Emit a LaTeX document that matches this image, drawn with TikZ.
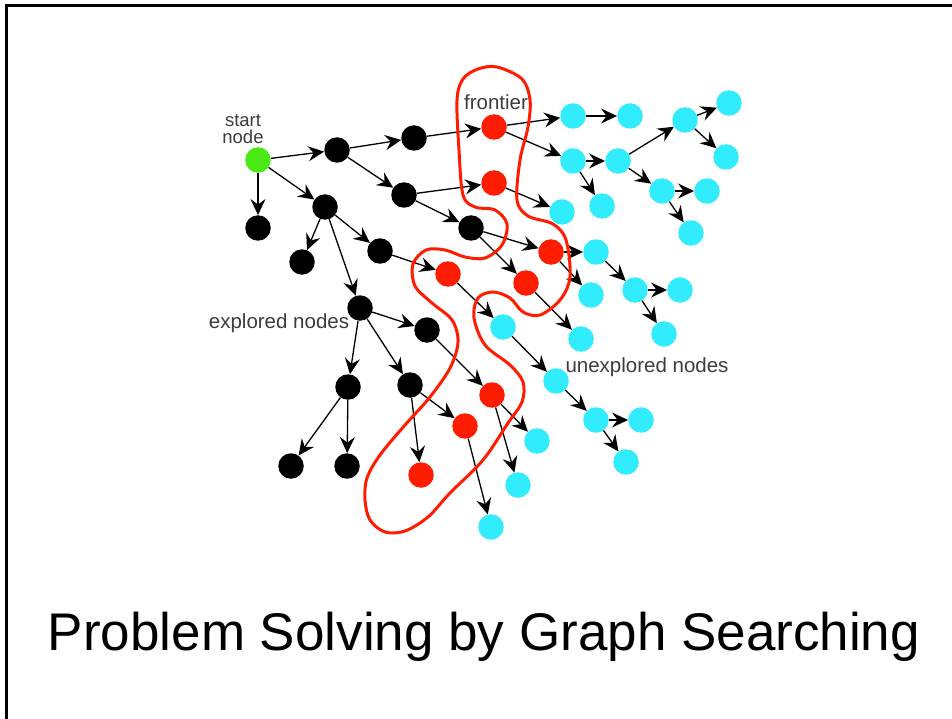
\documentclass[tikz,border=0pt]{standalone}
\usepackage{fontspec}
\setmainfont{Liberation Sans}
\usetikzlibrary{arrows.meta}
\definecolor{startgreen}{RGB}{76,234,20}
\definecolor{frontred}{RGB}{255,28,0}
\definecolor{opencyan}{RGB}{48,236,252}
\definecolor{labelgray}{RGB}{60,60,60}
\tikzset{
  vtx/.style={circle, minimum size=25.5pt, inner sep=0pt, draw=none},
  startv/.style={vtx, fill=startgreen},
  donev/.style={vtx, fill=black},
  frontv/.style={vtx, fill=frontred},
  openv/.style={vtx, fill=opencyan},
  edge/.style={-{Stealth[length=16pt,width=15pt,inset=5.5pt]}, line width=1.3pt, black},
  lbl/.style={font=\fontsize{20.5}{17}\selectfont, text=labelgray, inner sep=0pt},
  smalllbl/.style={lbl, font=\fontsize{18.5}{15}\selectfont},
  frontline/.style={draw=frontred, line width=3pt}
}
\begin{document}
\begin{tikzpicture}[x=1pt, y=-1pt]
\path[use as bounding box] (0,0) rectangle (952,719);
% frame
\draw[line width=3pt] (6.5,725) -- (6.5,5.2) -- (960,5.2);

% start node and explored nodes
\node[startv] (S) at (258,160) {};
\node[donev] (B1) at (337,150) {};
\node[donev] (B2) at (258,228) {};
\node[donev] (B3) at (325,207) {};
\node[donev] (B4) at (414,138) {};
\node[donev] (B5) at (404,195) {};
\node[donev] (B6) at (302,262) {};
\node[donev] (B7) at (380,251) {};
\node[donev] (B8) at (360,308) {};
\node[donev] (B9) at (471,228) {};
\node[donev] (B10) at (427,330) {};
\node[donev] (B11) at (348,387) {};
\node[donev] (B12) at (410,385) {};
\node[donev] (B13) at (291,466) {};
\node[donev] (B14) at (347,466) {};

% frontier nodes
\node[frontv] (R1) at (494,127) {};
\node[frontv] (R2) at (494,183) {};
\node[frontv] (R3) at (551,252) {};
\node[frontv] (R4) at (526,283) {};
\node[frontv] (R5) at (448,274) {};
\node[frontv] (R6) at (492,395) {};
\node[frontv] (R7) at (465,426) {};
\node[frontv] (R8) at (421,475) {};

% unexplored nodes
\node[openv] (C1) at (573,116) {};
\node[openv] (C2) at (630,116) {};
\node[openv] (C3) at (573,161) {};
\node[openv] (C4) at (618,161) {};
\node[openv] (C5) at (602,206) {};
\node[openv] (C6) at (685,120) {};
\node[openv] (C7) at (729,103) {};
\node[openv] (C8) at (726,157) {};
\node[openv] (C9) at (662,191) {};
\node[openv] (C10) at (707,191) {};
\node[openv] (C11) at (691,233) {};
\node[openv] (C12) at (562,212) {};
\node[openv] (C13) at (596,252) {};
\node[openv] (C14) at (591,295) {};
\node[openv] (C15) at (635,290) {};
\node[openv] (C16) at (680,290) {};
\node[openv] (C17) at (664,334) {};
\node[openv] (C18) at (581,339) {};
\node[openv] (C19) at (503,327) {};
\node[openv] (C20) at (556,381) {};
\node[openv] (C21) at (596,420) {};
\node[openv] (C22) at (641,420) {};
\node[openv] (C23) at (626,462) {};
\node[openv] (C24) at (537,441) {};
\node[openv] (C25) at (518,485) {};
\node[openv] (C26) at (491,527) {};

% search tree edges
\foreach \a/\b in {S/B1, S/B2, S/B3, B1/B4, B1/B5, B4/R1, B5/R2, B5/B9,
  B3/B6, B3/B7, B3/B8, B7/R5, B9/R3, B9/R4, B8/B10, B8/B11, B8/B12,
  B10/R6, B11/B13, B11/B14, B12/R7, B12/R8,
  R1/C1, R1/C3, C1/C2, C3/C4, C3/C5, C4/C6, C4/C9, C6/C7, C6/C8,
  C9/C10, C9/C11, R2/C12, R3/C13, R3/C14, C13/C15, C15/C16, C15/C17,
  R4/C18, R5/C19, C19/C20, C20/C21, C21/C22, C21/C23,
  R6/C24, R6/C25, R7/C26}
  \draw[edge] (\a) -- (\b);

% frontier boundary
\draw[frontline] plot[smooth cycle, tension=0.55] coordinates {
  (497,67) (522,79) (530,100) (528,127) (520,160) (517,200) (528,216)
  (553,224) (566,240) (570,277) (560,300) (540,315) (523,312) (510,298)
  (493,292) (478,298) (474,318) (485,345) (510,365) (523,382) (522,402)
  (508,423) (483,460) (450,493) (428,517) (405,531) (385,532) (370,520)
  (365,500) (367,478) (380,455) (405,425) (430,397) (450,368) (458,342)
  (452,320) (432,303) (415,286) (413,264) (426,250) (445,250) (465,257)
  (485,258) (502,245) (507,224) (495,210) (475,207) (463,195) (459,150)
  (457,100) (463,79) (478,69)};

% labels
\node[smalllbl, anchor=base] (lstart) at (243,127) {start};
\node[smalllbl, anchor=base] (lnode) at (243,144) {node};
\node[lbl, anchor=base] (lfront) at (496,110) {frontier};
\node[lbl, anchor=base] (lexpl) at (279,328) {explored nodes};
\node[lbl, anchor=base] (lunexpl) at (647,372) {unexplored nodes};

% title
\node[anchor=base, inner sep=0pt, font=\fontsize{53}{60}\selectfont] (title) at (484,650) {Problem Solving by Graph Searching};
\end{tikzpicture}
\end{document}
